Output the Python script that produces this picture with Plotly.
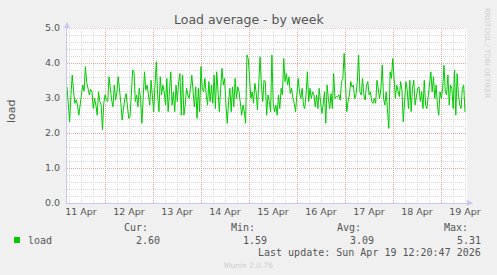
import pandas as pd
import plotly.graph_objects as go

# ---- data ----
load = [
    3.32, 2.80, 2.32, 3.10, 3.66, 3.20, 2.85, 2.95, 2.80, 2.51, 2.90, 3.09, 3.37, 3.20, 3.90, 3.45,
    3.28, 3.09, 3.25, 3.18, 2.71, 2.99, 2.80, 2.51, 3.18, 2.90, 2.80, 2.09, 2.85, 3.09, 2.95, 2.90,
    3.61, 3.20, 2.94, 2.75, 3.37, 2.94, 3.18, 3.61, 3.09, 2.85, 2.37,
    2.70, 2.99, 3.13, 2.85, 2.42, 2.47, 3.28, 3.80, 3.75, 2.90, 3.09, 2.75, 3.28, 2.99, 2.28, 3.28,
    3.75, 3.23, 3.37, 3.09, 2.80, 3.51, 2.99, 2.61, 3.37, 4.04, 3.09, 2.61, 3.61, 3.09, 3.37, 3.18,
    2.80, 3.56, 2.61, 3.37, 3.75, 2.80, 3.18, 2.61, 3.37, 2.90, 3.47, 3.70, 2.51,
    3.66, 2.51, 2.80, 3.28, 3.09, 2.99, 3.28, 3.66, 3.18, 2.75, 3.32, 2.42, 3.28, 2.61, 3.90, 3.28,
    3.18, 3.56, 3.09, 2.80, 3.47, 2.90, 3.37, 2.85, 3.66, 2.70, 3.75, 3.18, 2.61, 3.28, 3.85, 3.37,
    3.56, 2.80, 2.28, 2.90, 3.28, 2.61, 3.32, 2.75,
    3.56, 2.99, 3.32, 3.18, 2.80, 2.51, 2.80, 2.61, 2.28, 4.23, 4.13, 3.56, 2.99, 3.18, 2.85, 3.42,
    3.18, 2.66, 3.56, 4.18, 3.37, 2.90, 3.51, 3.47, 2.51, 3.09, 2.90, 2.61, 4.23, 2.85, 2.61, 2.80,
    2.51, 3.09, 2.70, 3.28, 3.09, 4.13, 3.47, 3.70, 3.37, 3.61, 3.13, 3.28, 2.99,
    2.85, 2.61, 3.18, 3.56, 3.18, 2.99, 3.28, 2.80, 2.70, 3.09, 3.75, 2.90, 3.28, 2.99, 3.18, 3.09,
    2.75, 3.09, 2.70, 3.28, 2.90, 2.56, 2.80, 3.18, 2.28, 3.37, 2.99, 2.70, 3.13, 2.70, 3.70, 2.99,
    3.04, 3.04, 3.09, 2.94, 3.47, 3.56, 4.28, 3.47, 2.61, 2.90, 3.09, 3.47, 3.32,
    3.37, 2.99, 3.09, 3.47, 4.23, 3.18, 3.09, 3.56, 3.09, 2.94, 3.37, 3.47, 3.09, 3.18, 2.90, 2.85,
    2.99, 2.85, 3.51, 3.18, 2.99, 3.28, 3.94, 2.99, 2.80, 3.18, 2.75, 2.13, 3.75, 3.56, 4.13, 3.47,
    2.99, 3.37, 3.18, 3.04, 3.47, 3.23, 2.32, 2.99, 3.47, 3.23, 2.70, 3.51, 2.61,
    3.28, 3.51, 2.80, 2.99, 3.28, 3.32, 2.90, 3.18, 2.70, 3.51, 2.80, 2.70, 3.09, 3.32, 3.75, 3.18,
    3.61, 2.99, 3.37, 2.80, 2.51, 3.18, 2.99, 3.28, 3.94, 3.18, 3.09, 3.66, 2.80, 3.37, 3.28, 2.70,
    3.80, 2.51, 3.70, 3.09, 2.80, 2.70, 3.28, 3.37, 2.60,
]
range_start = "2026-04-11 05:00:00"
range_end = "2026-04-19 13:00:00"
data_end = "2026-04-19 12:00:00"
day_labels = ["11 Apr", "12 Apr", "13 Apr", "14 Apr", "15 Apr", "16 Apr", "17 Apr", "18 Apr", "19 Apr"]
y_ticks = [0, 1, 2, 3, 4, 5]
y_max = 5
stats_heads = ["Cur:", "Min:", "Avg:", "Max:"]
stats_vals = ["2.60", "1.59", "3.09", "5.31"]
series_name = "load"
title = "Load average - by week"
last_update = "Last update: Sun Apr 19 12:20:47 2026"

# ---- derived ----
times = pd.date_range(range_start, data_end, periods=len(load))
days = pd.date_range("2026-04-11", periods=len(day_labels), freq="D")
noons = days + pd.Timedelta(hours=12)
midnights = days[1:]
minor_vals = [d + pd.Timedelta(hours=h) for d in days for h in (6, 12, 18)]

W, H = 497, 275
L, R, T, B = 67, 467, 28, 203


def px(x):
    return (x - L) / (R - L)


def py(y):
    return (B - y) / (B - T)


FONT = "DejaVu Sans"
MONO = "DejaVu Sans Mono"
TXT = "#555555"
RED = "#E5A5A5"
GRAY = "#DADADA"
AXIS = "#C8C8F0"

fig = go.Figure()
fig.add_trace(go.Scatter(x=times, y=load, mode="lines",
                         line=dict(color="#00CC00", width=1), hoverinfo="skip",
                         showlegend=False))
fig.add_trace(go.Scatter(x=[times[0]], y=[0], xaxis="x2", mode="markers",
                         marker=dict(opacity=0), showlegend=False, hoverinfo="skip"))

fig.update_layout(
    width=W, height=H,
    margin=dict(l=L, r=W - R, t=T, b=H - B),
    paper_bgcolor="#F0F0F0", plot_bgcolor="#FFFFFF",
    font=dict(family=FONT, size=10, color=TXT),
    showlegend=False,
    xaxis=dict(
        type="date", range=[range_start, range_end],
        tickmode="array", tickvals=list(noons), ticktext=day_labels,
        showgrid=False, zeroline=False, ticks="",
        tickfont=dict(family=FONT, size=9.5, color=TXT),
        showline=True, linecolor=AXIS, linewidth=1,
        minor=dict(tickmode="array", tickvals=minor_vals, showgrid=True,
                   gridcolor=GRAY, griddash="1px,1px", gridwidth=1),
    ),
    xaxis2=dict(
        type="date", overlaying="x", matches="x", side="bottom",
        tickmode="array", tickvals=list(midnights), showticklabels=False,
        showgrid=True, gridcolor=RED, griddash="1px,1px", gridwidth=1,
        zeroline=False, ticks="", showline=False,
    ),
    yaxis=dict(
        range=[0, 5.003], tickmode="array", tickvals=y_ticks,
        ticktext=[f"{v:.1f}" for v in y_ticks],
        showgrid=True, gridcolor=RED, griddash="1px,1px", gridwidth=1,
        zeroline=False, ticks="", ticklabelstandoff=4,
        tickfont=dict(family=FONT, size=9.5, color=TXT),
        showline=True, linecolor=AXIS, linewidth=1,
        minor=dict(dtick=0.2, tick0=0, showgrid=True, gridcolor=GRAY,
                   griddash="1px,1px", gridwidth=1),
    ),
)

ann = []
ann.append(dict(text=title, x=px(248.5), y=py(19), xref="paper", yref="paper",
                showarrow=False, xanchor="center", yanchor="middle",
                font=dict(family=FONT, size=12.5, color=TXT)))
ann.append(dict(text="load", x=px(11), y=py(111), xref="paper", yref="paper",
                showarrow=False, textangle=-90, xanchor="center", yanchor="middle",
                font=dict(family=FONT, size=11, color=TXT)))
ann.append(dict(text="RRDTOOL / TOBI OETIKER", x=px(487), y=py(53), xref="paper", yref="paper",
                showarrow=False, textangle=90, xanchor="center", yanchor="middle",
                font=dict(family=FONT, size=7, color="#CFCFCF")))
head_right = [150, 257, 363, 470]
val_right = [162, 269, 376, 483]
for h, v, hr, vr in zip(stats_heads, stats_vals, head_right, val_right):
    ann.append(dict(text=h, x=px(hr), y=py(227), xref="paper", yref="paper",
                    showarrow=False, xanchor="right", yanchor="middle",
                    font=dict(family=MONO, size=10, color=TXT)))
    ann.append(dict(text=v, x=px(vr), y=py(240), xref="paper", yref="paper",
                    showarrow=False, xanchor="right", yanchor="middle",
                    font=dict(family=MONO, size=10, color=TXT)))
ann.append(dict(text=series_name, x=px(26), y=py(240), xref="paper", yref="paper",
                showarrow=False, xanchor="left", yanchor="middle",
                font=dict(family=MONO, size=10, color=TXT)))
ann.append(dict(text=last_update, x=px(483), y=py(252), xref="paper", yref="paper",
                showarrow=False, xanchor="right", yanchor="middle",
                font=dict(family=MONO, size=10, color=TXT)))
ann.append(dict(text="Munin 2.0.76", x=px(248), y=py(265), xref="paper", yref="paper",
                showarrow=False, xanchor="center", yanchor="middle",
                font=dict(family=FONT, size=7.5, color="#CCCCCC")))
fig.update_layout(annotations=ann)

shapes = [
    dict(type="line", xref="paper", yref="y", x0=0, x1=1, y0=y_max, y1=y_max,
         line=dict(color=RED, width=1, dash="1px,1px"), layer="below"),
    dict(type="rect", xref="paper", yref="paper", x0=px(14), x1=px(20), y0=py(243), y1=py(237),
         fillcolor="#00CC00", line=dict(width=0)),
    dict(type="path", xref="paper", yref="paper",
         path=f"M {px(64)} {py(28)} L {px(70)} {py(28)} L {px(67)} {py(22)} Z",
         fillcolor=AXIS, line=dict(width=0)),
    dict(type="path", xref="paper", yref="paper",
         path=f"M {px(467)} {py(200)} L {px(467)} {py(206)} L {px(473)} {py(203)} Z",
         fillcolor=AXIS, line=dict(width=0)),
]
fig.update_layout(shapes=shapes)

fig.write_html("out.html")
